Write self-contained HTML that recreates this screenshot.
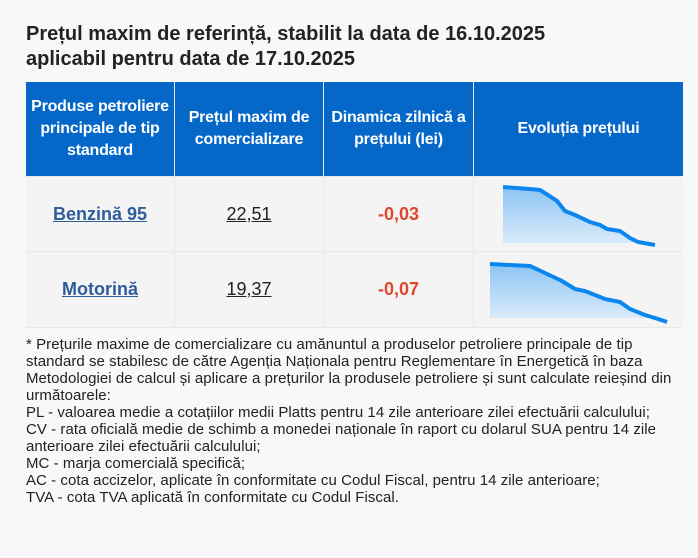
<!DOCTYPE html><html><head><meta charset="utf-8"><style>
body{margin:0;width:698px;height:558px;background:#f8f8f8;font-family:"Liberation Sans",sans-serif;position:relative;overflow:hidden}
.t{position:absolute;left:26px;font-weight:bold;font-size:20px;color:#222;line-height:24px}
.h{position:absolute;top:82px;height:94px;background:#0568c9;color:#fff;font-weight:bold;font-size:16px;display:flex;align-items:center;justify-content:center;text-align:center;line-height:22px;letter-spacing:-0.2px}
.c{position:absolute;background:#f4f4f4;display:flex;align-items:center;justify-content:center;font-size:18px}
.a{color:#2f5c9a;font-weight:bold;text-decoration:underline}
.n{color:#222;text-decoration:underline}
.r{color:#e0482e;font-weight:bold}
.f{position:absolute;left:26px;top:336px;font-size:15px;line-height:17px;color:#222;letter-spacing:0.05px;white-space:pre}
</style></head><body>
<div class="t" style="top:22px">Prețul maxim de referință, stabilit la data de 16.10.2025</div>
<div class="t" style="top:47px">aplicabil pentru data de 17.10.2025</div>
<div style="position:absolute;left:26px;top:82px;width:657px;height:246px;background:#e8e8e8"></div>
<div class="h" style="left:26px;width:148px">Produse petroliere<br>principale de tip<br>standard</div>
<div class="h" style="left:175px;width:148px">Prețul maxim de<br>comercializare</div>
<div class="h" style="left:324px;width:149px">Dinamica zilnică a<br>prețului (lei)</div>
<div class="h" style="left:474px;width:209px">Evoluția prețului</div>
<div class="c" style="left:26px;top:177px;width:148px;height:74px"><span class="a">Benzină 95</span></div>
<div class="c" style="left:175px;top:177px;width:148px;height:74px"><span class="n">22,51</span></div>
<div class="c" style="left:324px;top:177px;width:149px;height:74px"><span class="r">-0,03</span></div>
<div class="c" style="left:474px;top:177px;width:209px;height:74px"></div>
<div class="c" style="left:26px;top:252px;width:148px;height:75px"><span class="a">Motorină</span></div>
<div class="c" style="left:175px;top:252px;width:148px;height:75px"><span class="n">19,37</span></div>
<div class="c" style="left:324px;top:252px;width:149px;height:75px"><span class="r">-0,07</span></div>
<div class="c" style="left:474px;top:252px;width:209px;height:75px"></div>
<svg style="position:absolute;left:0;top:0" width="698" height="558">
<defs><linearGradient id="g" x1="0" y1="0" x2="0" y2="1"><stop offset="0" stop-color="#8cc4f4"/><stop offset="1" stop-color="#dcecfa"/></linearGradient></defs>
<path d="M503,187 L530,189 L540,190 L548,195 L557,201 L565,211 L575,215 L590,222 L600,225 L607,229 L620,231 L630,238 L638,242 L655,245 L655,243 L503,243Z" fill="url(#g)"/>
<polyline points="503,187 530,189 540,190 548,195 557,201 565,211 575,215 590,222 600,225 607,229 620,231 630,238 638,242 655,245" fill="none" stroke="#0b86ee" stroke-width="4"/>
<path d="M490,264 L530,266 L545,273 L562,281 L575,289 L585,291 L605,299 L620,302 L630,309 L645,315 L667,320 L667,318 L490,318Z" fill="url(#g)"/>
<polyline points="490,264 530,266 545,273 562,281 575,289 585,291 605,299 620,302 630,309 645,315 655,318 667,322" fill="none" stroke="#0b86ee" stroke-width="4"/>
</svg>
<div class="f">* Prețurile maxime de comercializare cu amănuntul a produselor petroliere principale de tip
standard se stabilesc de către Agenția Naționala pentru Reglementare în Energetică în baza
Metodologiei de calcul și aplicare a prețurilor la produsele petroliere și sunt calculate reieșind din
următoarele:
PL - valoarea medie a cotațiilor medii Platts pentru 14 zile anterioare zilei efectuării calculului;
CV - rata oficială medie de schimb a monedei naționale în raport cu dolarul SUA pentru 14 zile
anterioare zilei efectuării calculului;
MC - marja comercială specifică;
AC - cota accizelor, aplicate în conformitate cu Codul Fiscal, pentru 14 zile anterioare;
TVA - cota TVA aplicată în conformitate cu Codul Fiscal.</div>
</body></html>
